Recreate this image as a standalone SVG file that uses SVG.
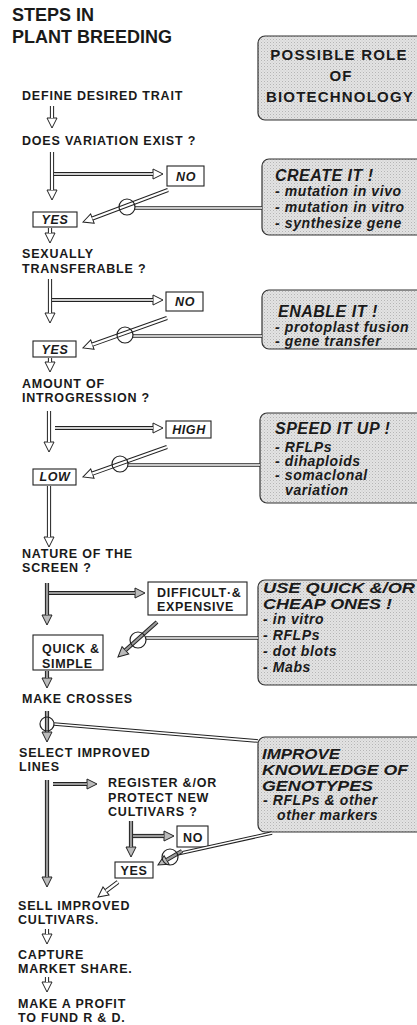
<svg xmlns="http://www.w3.org/2000/svg" width="417" height="1025" viewBox="0 0 417 1025">
<defs>
<pattern id="dots" width="3" height="3" patternUnits="userSpaceOnUse"><rect width="3" height="3" fill="#e3e3e3"/><rect width="1" height="1" fill="#b5b5b5"/><rect x="1.5" y="1.5" width="1" height="1" fill="#cacaca"/></pattern>
<marker id="hw" markerUnits="userSpaceOnUse" markerWidth="12" markerHeight="12" refX="0" refY="6" orient="auto" overflow="visible"><path d="M0,1 L10,6 L0,11 Z" fill="#fff" stroke="#222" stroke-width="1"/></marker>
<marker id="hg" markerUnits="userSpaceOnUse" markerWidth="12" markerHeight="12" refX="0" refY="6" orient="auto" overflow="visible"><path d="M0,1 L10,6 L0,11 Z" fill="#bbb" stroke="#222" stroke-width="1"/></marker>
</defs>
<style>
text{font-family:"Liberation Sans",Arial,sans-serif;fill:#1a1a1a}
.t{font-size:12.5px;font-weight:bold;letter-spacing:0.8px}
.ttl{font-size:18px;font-weight:bold}
.hdr{font-size:15px;font-weight:bold;letter-spacing:1.2px}
.bl{font-size:12.5px;font-weight:bold;font-style:italic;letter-spacing:0.6px}
.bt{font-size:12.5px;font-weight:bold;letter-spacing:0.7px}
.h1{font-size:16px;font-weight:bold;font-style:italic;letter-spacing:0.5px}
.h2{font-size:15.5px;font-weight:bold;font-style:italic}
.h3{font-size:14px;font-weight:bold;font-style:italic}
.it{font-size:14px;font-weight:bold;font-style:italic;letter-spacing:0.6px}
.rb{fill:url(#dots);stroke:#333;stroke-width:1.2}
.sb{fill:#fff;stroke:#222;stroke-width:1.1}
.so{stroke:#222;stroke-width:4.2;fill:none}
.si{stroke:#fff;stroke-width:2.2;fill:none}
.sl{stroke:#cfcfcf;stroke-width:2.2;fill:none}
.sg{stroke:#9a9a9a;stroke-width:2.2;fill:none}
.co{stroke:#222;stroke-width:3.6;fill:none}
.ci{stroke:#fff;stroke-width:1.6;fill:none}
.cr{fill:none;stroke:#222;stroke-width:1.2}
</style>
<rect width="417" height="1025" fill="#fff"/>

<g id="title">
<text class="ttl" x="12" y="21">STEPS IN</text>
<text class="ttl" x="12" y="43">PLANT BREEDING</text>
</g>

<g id="role-box">
<rect class="rb" x="258" y="36" width="170" height="84" rx="7"/>
<text class="hdr" x="339" y="60" text-anchor="middle">POSSIBLE ROLE</text>
<text class="hdr" x="341" y="81" text-anchor="middle">OF</text>
<text class="hdr" x="340" y="102" text-anchor="middle">BIOTECHNOLOGY</text>
</g>

<g id="create-box">
<rect class="rb" x="262" y="159" width="166" height="76" rx="7"/>
<text class="h1" x="275" y="181">CREATE IT !</text>
<text class="it" x="275" y="196">- mutation in vivo</text>
<text class="it" x="275" y="212">- mutation in vitro</text>
<text class="it" x="275" y="228">- synthesize gene</text>
</g>

<g id="enable-box">
<rect class="rb" x="262" y="290" width="166" height="59" rx="7"/>
<text class="h1" x="278" y="317">ENABLE IT !</text>
<text class="it" x="275" y="332">- protoplast fusion</text>
<text class="it" x="275" y="346">- gene transfer</text>
</g>

<g id="speed-box">
<rect class="rb" x="260" y="413" width="168" height="90" rx="7"/>
<text class="h1" x="275" y="434">SPEED IT UP !</text>
<text class="it" x="275" y="452">- RFLPs</text>
<text class="it" x="275" y="466">- dihaploids</text>
<text class="it" x="275" y="480">- somaclonal</text>
<text class="it" x="285" y="495">variation</text>
</g>

<g id="quick-box">
<rect class="rb" x="258" y="580" width="170" height="105" rx="7"/>
<text class="h2" x="263" y="593" textLength="152" lengthAdjust="spacingAndGlyphs">USE QUICK &amp;/OR</text>
<text class="h2" x="263" y="609" textLength="129" lengthAdjust="spacingAndGlyphs">CHEAP ONES !</text>
<text class="it" x="263" y="624">- in vitro</text>
<text class="it" x="263" y="640">- RFLPs</text>
<text class="it" x="263" y="656">- dot blots</text>
<text class="it" x="263" y="672">- Mabs</text>
</g>

<g id="improve-box">
<rect class="rb" x="258" y="737" width="170" height="95" rx="7"/>
<text class="h3" x="262" y="759" textLength="78" lengthAdjust="spacingAndGlyphs">IMPROVE</text>
<text class="h3" x="262" y="775" textLength="146" lengthAdjust="spacingAndGlyphs">KNOWLEDGE OF</text>
<text class="h3" x="262" y="791" textLength="111" lengthAdjust="spacingAndGlyphs">GENOTYPES</text>
<text class="it" x="263" y="805">- RFLPs &amp; other</text>
<text class="it" x="277" y="820">other markers</text>
</g>

<g id="step-define"><text class="t" x="22" y="100">DEFINE DESIRED TRAIT</text></g>
<g id="step-variation"><text class="t" x="22" y="145">DOES VARIATION EXIST ?</text></g>
<g id="no-1"><rect class="sb" x="167" y="166" width="37" height="20"/><text class="bl" x="186" y="181" text-anchor="middle">NO</text></g>
<g id="yes-1"><rect class="sb" x="33" y="212" width="44" height="15"/><text class="bl" x="55" y="224" text-anchor="middle">YES</text></g>
<g id="step-sexual"><text class="t" x="22" y="258">SEXUALLY</text><text class="t" x="22" y="273">TRANSFERABLE ?</text></g>
<g id="no-2"><rect class="sb" x="166" y="292" width="37" height="19"/><text class="bl" x="185" y="306" text-anchor="middle">NO</text></g>
<g id="yes-2"><rect class="sb" x="33" y="341" width="43" height="16"/><text class="bl" x="55" y="354" text-anchor="middle">YES</text></g>
<g id="step-introgression"><text class="t" x="22" y="388">AMOUNT OF</text><text class="t" x="22" y="402">INTROGRESSION ?</text></g>
<g id="high"><rect class="sb" x="166" y="421" width="45" height="17"/><text class="bl" x="189" y="434" text-anchor="middle">HIGH</text></g>
<g id="low"><rect class="sb" x="33" y="469" width="43" height="16"/><text class="bl" x="55" y="481" text-anchor="middle">LOW</text></g>
<g id="step-screen"><text class="t" x="22" y="558">NATURE OF THE</text><text class="t" x="22" y="572">SCREEN ?</text></g>
<g id="difficult"><rect class="sb" x="148" y="582" width="99" height="33"/><text class="bt" x="157" y="597">DIFFICULT·&amp;</text><text class="bt" x="157" y="611">EXPENSIVE</text></g>
<g id="quick"><rect class="sb" x="33" y="635" width="70" height="35"/><text class="bt" x="42" y="653">QUICK &amp;</text><text class="bt" x="42" y="668">SIMPLE</text></g>
<g id="step-crosses"><text class="t" x="22" y="703">MAKE CROSSES</text></g>
<g id="step-select"><text class="t" x="19" y="757">SELECT IMPROVED</text><text class="t" x="19" y="771">LINES</text></g>
<g id="step-register"><text class="t" x="108" y="787">REGISTER &amp;/OR</text><text class="t" x="108" y="802">PROTECT NEW</text><text class="t" x="108" y="816">CULTIVARS ?</text></g>
<g id="no-3"><rect class="sb" x="177" y="826" width="31" height="21"/><text class="bt" x="193" y="842" text-anchor="middle">NO</text></g>
<g id="yes-3"><rect class="sb" x="115" y="862" width="38" height="16"/><text class="bt" x="134" y="875" text-anchor="middle">YES</text></g>
<g id="step-sell"><text class="t" x="18" y="910">SELL IMPROVED</text><text class="t" x="18" y="924">CULTIVARS.</text></g>
<g id="step-capture"><text class="t" x="18" y="959">CAPTURE</text><text class="t" x="18" y="973">MARKET SHARE.</text></g>
<g id="step-profit"><text class="t" x="18" y="1008">MAKE A PROFIT</text><text class="t" x="18" y="1022">TO FUND R &amp; D.</text></g>

<g id="connectors">
<line class="so" x1="52" y1="106" x2="52" y2="118" marker-end="url(#hw)"/><line class="si" x1="52" y1="106" x2="52" y2="118"/>
<line class="so" x1="52" y1="152" x2="52" y2="190" marker-end="url(#hw)"/><line class="si" x1="52" y1="152" x2="52" y2="190"/>
<line class="so" x1="54" y1="174" x2="153" y2="174" marker-end="url(#hw)"/><line class="sl" x1="54" y1="174" x2="153" y2="174"/>
<line class="so" x1="168" y1="190" x2="92.4" y2="218.5" marker-end="url(#hw)"/><line class="si" x1="168" y1="190" x2="92.4" y2="218.5"/>
<line class="co" x1="135" y1="208" x2="262" y2="208"/><line class="ci" x1="135" y1="208" x2="262" y2="208"/>
<circle class="cr" cx="127" cy="207" r="8"/>
<line class="so" x1="50" y1="228" x2="50" y2="233" marker-end="url(#hw)"/><line class="si" x1="50" y1="228" x2="50" y2="233"/>

<line class="so" x1="50" y1="279" x2="50" y2="313" marker-end="url(#hw)"/><line class="si" x1="50" y1="279" x2="50" y2="313"/>
<line class="so" x1="52" y1="300" x2="153" y2="300" marker-end="url(#hw)"/><line class="sl" x1="52" y1="300" x2="153" y2="300"/>
<line class="so" x1="167" y1="318" x2="92.4" y2="344.6" marker-end="url(#hw)"/><line class="si" x1="167" y1="318" x2="92.4" y2="344.6"/>
<line class="co" x1="133" y1="336" x2="262" y2="336"/><line class="ci" x1="133" y1="336" x2="262" y2="336"/>
<circle class="cr" cx="125" cy="335" r="8"/>
<line class="so" x1="50" y1="358" x2="50" y2="362" marker-end="url(#hw)"/><line class="si" x1="50" y1="358" x2="50" y2="362"/>

<line class="so" x1="49" y1="411" x2="49" y2="442" marker-end="url(#hw)"/><line class="si" x1="49" y1="411" x2="49" y2="442"/>
<line class="so" x1="55" y1="428" x2="153" y2="428" marker-end="url(#hw)"/><line class="sl" x1="55" y1="428" x2="153" y2="428"/>
<line class="so" x1="167" y1="447" x2="92.4" y2="473.6" marker-end="url(#hw)"/><line class="si" x1="167" y1="447" x2="92.4" y2="473.6"/>
<line class="co" x1="128" y1="465" x2="260" y2="465"/><line class="ci" x1="128" y1="465" x2="260" y2="465"/>
<circle class="cr" cx="120" cy="464" r="8"/>
<line class="so" x1="49" y1="486" x2="49" y2="537" marker-end="url(#hw)"/><line class="si" x1="49" y1="486" x2="49" y2="537"/>

<line class="so" x1="47" y1="583" x2="47" y2="615" marker-end="url(#hg)"/><line class="sg" x1="47" y1="583" x2="47" y2="615"/>
<line class="so" x1="49" y1="593" x2="135" y2="593" marker-end="url(#hg)"/><line class="sg" x1="49" y1="593" x2="135" y2="593"/>
<line class="so" x1="157" y1="622" x2="125.4" y2="650.3" marker-end="url(#hg)"/><line class="sg" x1="157" y1="622" x2="125.4" y2="650.3"/>
<line class="co" x1="146" y1="638" x2="258" y2="638"/><line class="ci" x1="146" y1="638" x2="258" y2="638"/>
<circle class="cr" cx="138" cy="640" r="8"/>
<line class="so" x1="47" y1="671" x2="47" y2="678" marker-end="url(#hg)"/><line class="sg" x1="47" y1="671" x2="47" y2="678"/>

<line class="so" x1="47" y1="711" x2="47" y2="732" marker-end="url(#hg)"/><line class="sg" x1="47" y1="711" x2="47" y2="732"/>
<line class="co" x1="54" y1="724" x2="258" y2="741"/><line class="ci" x1="54" y1="724" x2="258" y2="741"/>
<circle class="cr" cx="47" cy="724" r="7"/>
<line class="so" x1="47" y1="780" x2="47" y2="877" marker-end="url(#hg)"/><line class="sg" x1="47" y1="780" x2="47" y2="877"/>
<line class="so" x1="53" y1="784" x2="87" y2="784" marker-end="url(#hg)"/><line class="sg" x1="53" y1="784" x2="87" y2="784"/>
<line class="so" x1="131" y1="821" x2="131" y2="847" marker-end="url(#hg)"/><line class="sg" x1="131" y1="821" x2="131" y2="847"/>
<line class="so" x1="133" y1="836" x2="164" y2="836" marker-end="url(#hg)"/><line class="sg" x1="133" y1="836" x2="164" y2="836"/>
<line class="co" x1="272" y1="833" x2="177" y2="854"/><line class="ci" x1="272" y1="833" x2="177" y2="854"/>
<line class="so" x1="182" y1="851" x2="166.6" y2="860" marker-end="url(#hg)"/><line class="sg" x1="182" y1="851" x2="166.6" y2="860"/>
<circle class="cr" cx="170" cy="857" r="8"/>
<line class="so" x1="118" y1="882" x2="106" y2="891" marker-end="url(#hw)"/><line class="si" x1="118" y1="882" x2="106" y2="891"/>
<line class="so" x1="47" y1="929" x2="47" y2="934" marker-end="url(#hw)"/><line class="si" x1="47" y1="929" x2="47" y2="934"/>
<line class="so" x1="47" y1="977" x2="47" y2="982" marker-end="url(#hw)"/><line class="si" x1="47" y1="977" x2="47" y2="982"/>
</g>
</svg>
